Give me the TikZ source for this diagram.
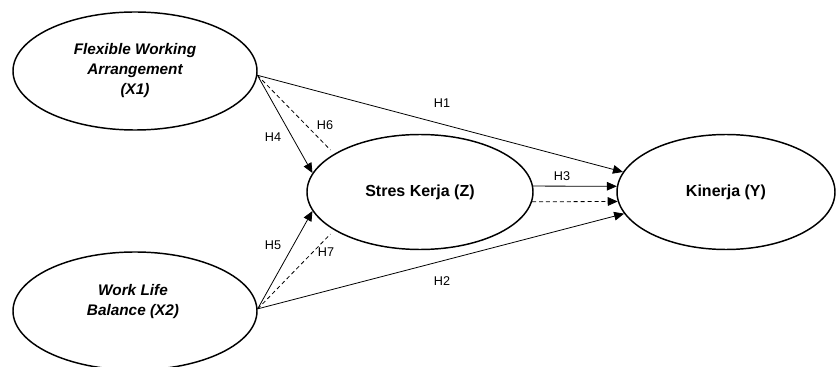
\documentclass[tikz,border=0pt]{standalone}
\usepackage{fontspec}
\setmainfont{Liberation Sans}
\usetikzlibrary{arrows.meta,shapes.geometric}

\begin{document}
\begin{tikzpicture}[x=0.75pt,y=-0.75pt,
  construct/.style={ellipse,draw,line width=1.1pt,inner sep=0pt,align=center},
  exo/.style={construct,minimum width=183pt,minimum height=88.5pt,
              font=\fontsize{11.5}{15}\selectfont\bfseries\itshape},
  exotext/.style={align=center,font=\fontsize{11.5}{15}\selectfont\bfseries\itshape},
  endo/.style={construct,minimum height=86.25pt,font=\fontsize{12}{14}\selectfont\bfseries},
  direct/.style={-{Triangle[length=7.5pt,width=6.5pt]},line width=0.6pt},
  mediated/.style={dash pattern=on 3pt off 2.2pt,line width=0.6pt},
  hyp/.style={font=\fontsize{9.5}{11}\selectfont}]
\useasboundingbox (0,0) rectangle (836,367);

\node[exo] (X1) at (135,71) {Flexible Working\\Arrangement\\(X1)};
\node[exo] (X2) at (135,311) {};
\node[exotext] (X2t) at (133,302) {Work Life\\Balance (X2)};
\node[endo,minimum width=169.5pt] (Z) at (420,192) {Stres Kerja (Z)};
\node[endo,minimum width=163.5pt] (Y) at (726,192) {Kinerja (Y)};

\draw[direct] (X1.-2) -- (Y.169);
\draw[direct] (X2.1) -- (Y.192);
\draw[direct] (Z.3) -- (Y.177);
\draw[direct,mediated] (Z.-5) -- (Y.185);
\draw[direct] (X1.-2) -- (Z.170);
\draw[direct] (X2.1) -- (Z.190);
\draw[mediated,shorten >=4pt] (X1.-2) -- (Z.156);
\draw[mediated,shorten >=4pt] (X2.1) -- (Z.204);

\node[hyp] (h1) at (442,103) {H1};
\node[hyp] (h2) at (442,281) {H2};
\node[hyp] (h3) at (562,176) {H3};
\node[hyp] (h4) at (273,137) {H4};
\node[hyp] (h5) at (273,245) {H5};
\node[hyp] (h6) at (325,125) {H6};
\node[hyp] (h7) at (326,252) {H7};
\end{tikzpicture}
\end{document}
